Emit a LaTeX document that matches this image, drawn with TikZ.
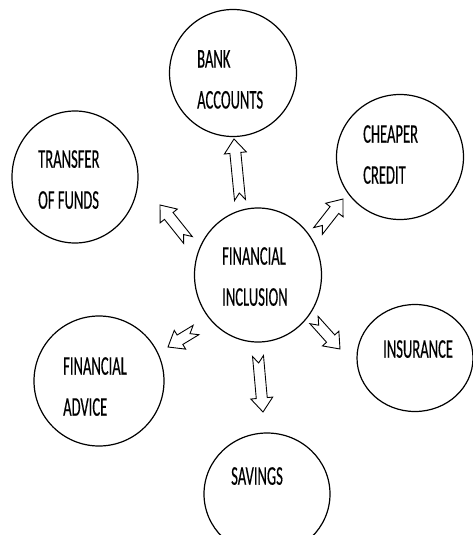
\documentclass[tikz,border=0pt]{standalone}
\usepackage{fontspec}
\newfontfamily\capfont[FakeStretch=0.54,FakeBold=0.3]{Carlito}
\usetikzlibrary{shapes.geometric,calc}
\tikzset{
  bubble/.style={draw=black, line width=1.2pt, ellipse, inner sep=0pt},
  lbl/.style={anchor=north west, inner sep=0pt, align=left,
    font=\capfont\fontsize{27}{41}\selectfont},
  notchbody/.style={draw=black, line width=0.9pt, fill=white, line join=miter},
}
\newcommand{\notcharrow}[2]{%
  \path let \p1=($(#2)-(#1)$), \n1={atan2(\y1,\x1)}, \n2={veclen(\x1,\y1)} in
    \pgfextra{\pgfmathsetmacro{\tmpA}{\n1}\global\let\nAng\tmpA
              \pgfmathsetmacro{\tmpL}{\n2}\global\let\nLen\tmpL};
  \draw[notchbody, shift={(#1)}, rotate=\nAng]
    (0,5.5) -- ({\nLen-14},5.5) -- ({\nLen-14},11) -- ({\nLen},0)
    -- ({\nLen-14},-11) -- ({\nLen-14},-5.5) -- (0,-5.5) -- (7,0) -- cycle;
}
\begin{document}
\begin{tikzpicture}[x=1pt,y=1pt]
\useasboundingbox (0,0) rectangle (473,-535);
\fill[white] (0,0) rectangle (473,-535);

% circles
\node[bubble, minimum width=127pt, minimum height=127pt] (bank) at (233,-73) {};
\node[bubble, minimum width=126pt, minimum height=132pt] (transfer) at (75,-177) {};
\node[bubble, minimum width=127pt, minimum height=125pt] (cheaper) at (400,-157) {};
\node[bubble, minimum width=127pt, minimum height=134pt] (incl) at (258,-275) {};
\node[bubble, minimum width=116pt, minimum height=107pt] (insur) at (415,-358) {};
\node[bubble, minimum width=130pt, minimum height=130pt] (advice) at (99,-381) {};
\node[bubble, minimum width=126pt, minimum height=122pt] (savings) at (267,-494) {};

% labels
\node[lbl] (bankt) at (197,-50) {BANK\\ACCOUNTS};
\node[lbl] (transfert) at (38,-150) {TRANSFER\\OF FUNDS};
\node[lbl] (cheapert) at (363,-125) {CHEAPER\\CREDIT};
\node[lbl] (inclt) at (222,-247) {FINANCIAL\\INCLUSION};
\node[lbl] (insurt) at (383,-340) {INSURANCE};
\node[lbl] (advicet) at (63,-357) {FINANCIAL\\ADVICE};
\node[lbl] (savingst) at (231,-467) {SAVINGS};

% arrow ends
\coordinate (a1s) at (240,-200); \coordinate (a1e) at (234,-139);
\coordinate (a2s) at (188,-240); \coordinate (a2e) at (160,-205);
\coordinate (a3s) at (318,-231); \coordinate (a3e) at (343,-199);
\coordinate (a4s) at (314,-320); \coordinate (a4e) at (340,-349);
\coordinate (a5s) at (258,-356); \coordinate (a5e) at (263,-412);
\coordinate (a6s) at (196,-330); \coordinate (a6e) at (168,-347);

\notcharrow{a1s}{a1e}
\notcharrow{a2s}{a2e}
\notcharrow{a3s}{a3e}
\notcharrow{a4s}{a4e}
\notcharrow{a5s}{a5e}
\notcharrow{a6s}{a6e}
\end{tikzpicture}
\end{document}
